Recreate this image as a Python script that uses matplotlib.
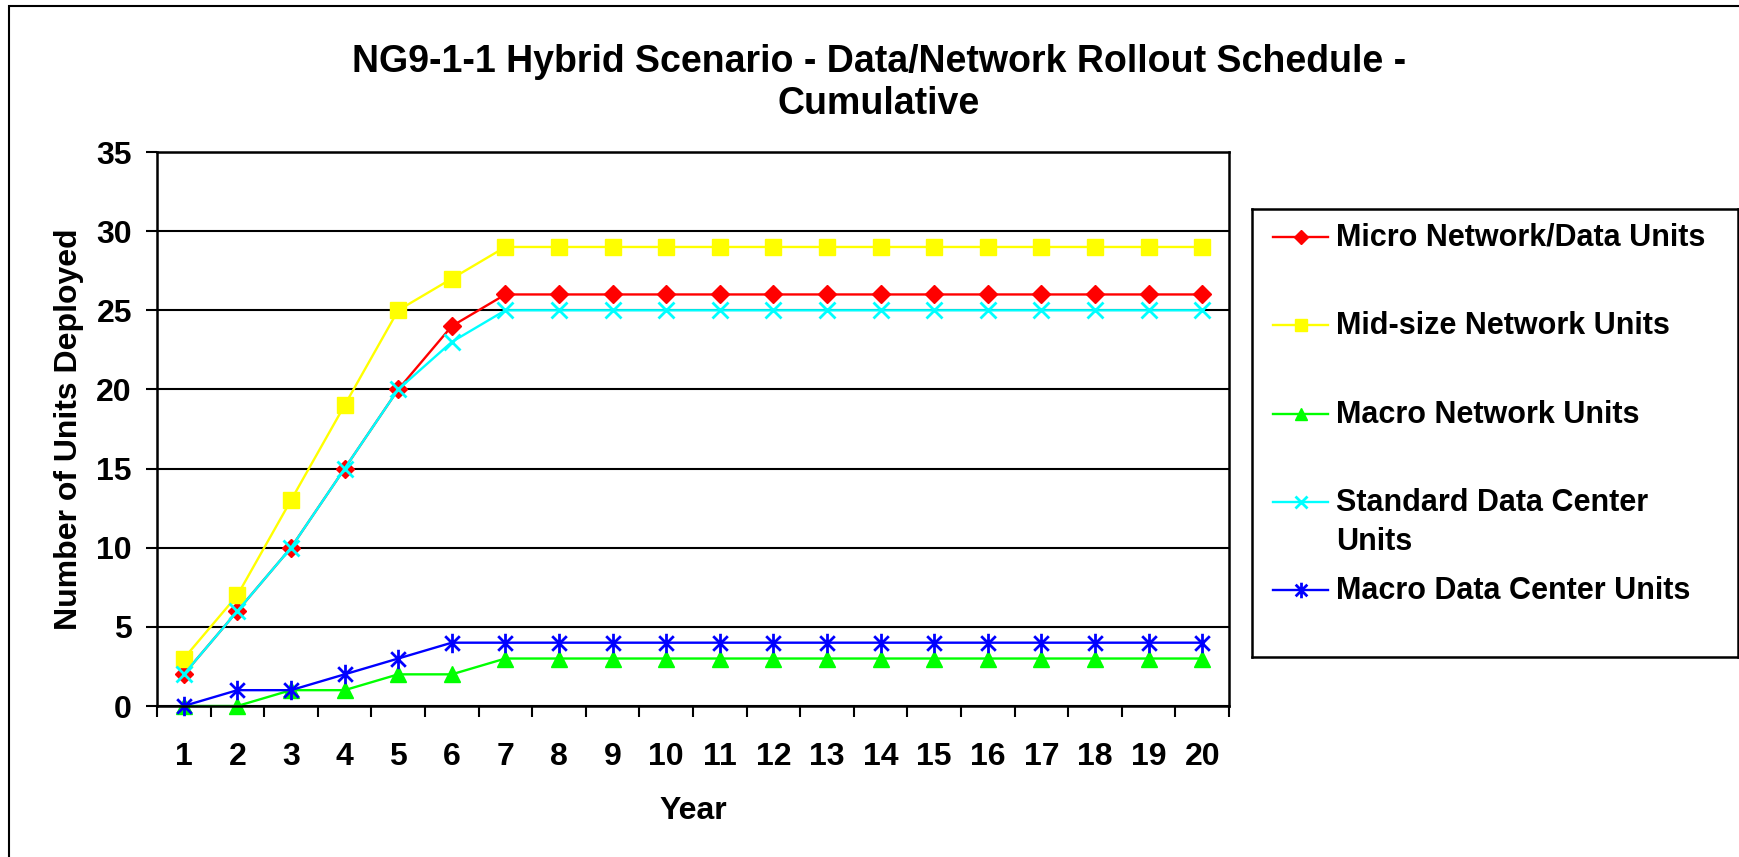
import matplotlib
matplotlib.use("Agg")
import matplotlib.pyplot as plt
from matplotlib.patches import Rectangle
from matplotlib.path import Path

plt.rcParams['font.family'] = ['Liberation Sans', 'DejaVu Sans']
plt.rcParams['font.weight'] = 'bold'

years = list(range(1, 21))
micro_units = [2, 6, 10, 15, 20, 24] + [26] * 14
midsize_units = [3, 7, 13, 19, 25, 27] + [29] * 14
macro_net_units = [0, 0, 1, 1, 2, 2] + [3] * 14
std_dc_units = [2, 6, 10, 15, 20, 23] + [25] * 14
macro_dc_units = [0, 1, 1, 2, 3, 4] + [4] * 14

labels = ['Micro Network/Data Units', 'Mid-size Network Units', 'Macro Network Units',
          'Standard Data Center\nUnits', 'Macro Data Center Units']

# Excel-style star: X with a vertical bar through it
star = Path([(0, -1), (0, 1), (-0.75, -0.75), (0.75, 0.75), (-0.75, 0.75), (0.75, -0.75)],
            [Path.MOVETO, Path.LINETO, Path.MOVETO, Path.LINETO, Path.MOVETO, Path.LINETO])

styles = [
    dict(color='#ff0000', marker='D', ms=9),
    dict(color='#ffff00', marker='s', ms=11),
    dict(color='#00ff00', marker='^', ms=11),
    dict(color='#00ffff', marker='x', ms=11, mew=2),
    dict(color='#0000ff', marker=star, ms=14, mew=2),
]
series = [micro_units, midsize_units, macro_net_units, std_dc_units, macro_dc_units]

W, H = 1740, 857
fig = plt.figure(figsize=(W / 100, H / 100), dpi=100)

# outer chart border (right/bottom edges run off the image)
fig.patches.append(Rectangle((9 / W, -0.5), 2, 1.5 - 6 / H, transform=fig.transFigure,
                             fill=False, edgecolor='black', lw=1.5))

ax = fig.add_axes([157 / W, 1 - 706 / H, (1229 - 157) / W, (706 - 152) / H])
for ys, st in zip(series, styles):
    ax.plot(years, ys, lw=1.7, mec=st['color'], **st, clip_on=False)

ax.set_xlim(0.5, 20.5)
ax.set_ylim(0, 35)
ax.set_yticks(range(0, 36, 5))
ax.set_xticks(years)
ax.set_xticks([x + 0.5 for x in range(0, 21)], minor=True)
ax.tick_params(axis='x', which='major', length=0, pad=26, labelsize=23)
ax.tick_params(axis='x', which='minor', length=8, width=1.5, direction='out')
ax.tick_params(axis='y', length=8, width=1.5, direction='out', pad=10, labelsize=23)
for lbl in ax.get_xticklabels() + ax.get_yticklabels():
    lbl.set_fontweight('bold')
ax.grid(axis='y', color='black', lw=1.5)
ax.set_axisbelow(True)
for sp in ax.spines.values():
    sp.set_linewidth(1.8)

ax.set_xlabel('Year', fontsize=23, fontweight='bold', labelpad=17)
ax.set_ylabel('Number of Units Deployed', fontsize=23, fontweight='bold', labelpad=9)

fig.text(879 / W, 1 - 83 / H, 'NG9-1-1 Hybrid Scenario - Data/Network Rollout Schedule -\nCumulative',
         ha='center', va='center', fontsize=27, fontweight='bold', linespacing=1.2)

# legend box drawn by hand so the two-line entry lines up like the original
lx0, ly0, lx1, ly1 = 1252, 209, 1738, 657
lax = fig.add_axes([lx0 / W, 1 - ly1 / H, (lx1 - lx0) / W, (ly1 - ly0) / H])
lax.set_xlim(0, lx1 - lx0)
lax.set_ylim(ly1 - ly0, 0)
lax.set_xticks([])
lax.set_yticks([])
for sp in lax.spines.values():
    sp.set_linewidth(1.8)
entry_y = [28, 116, 205, 293, 381]
for y, lab, st in zip(entry_y, labels, styles):
    kw = dict(st)
    kw['ms'] = kw['ms'] * 0.8
    lax.plot([21, 48.5, 76], [y, y, y], lw=1.7, mec=st['color'], markevery=[1], **kw)
    lax.text(84, y - 14, lab, ha='left', va='top', fontsize=22, fontweight='bold',
             linespacing=1.4)

fig.savefig('out.png', dpi=100)
